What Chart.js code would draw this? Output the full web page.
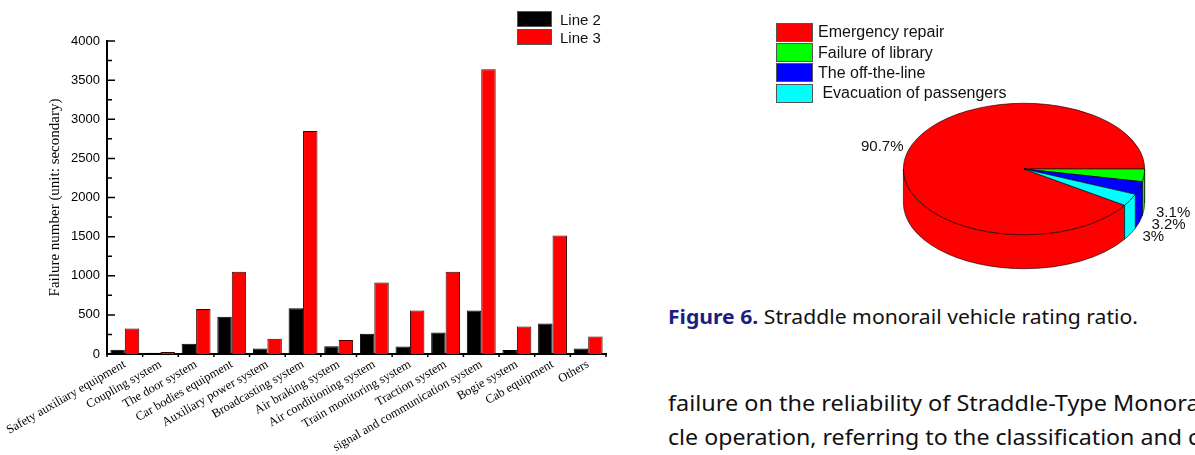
<!DOCTYPE html>
<html>
<head>
<meta charset="utf-8">
<script src="https://cdn.jsdelivr.net/npm/chart.js@4.4.1/dist/chart.umd.min.js"></script>
<style>
  html, body { margin: 0; padding: 0; background: #fff; }
  body { width: 1195px; height: 455px; position: relative; overflow: hidden; }
  canvas { position: absolute; }
  #bar { left: 0; top: 0; }
  #pie { left: 740px; top: 0; }
  .legend { position: absolute; font-family: "Liberation Sans", Arial, sans-serif; color: #111; }
  .legend .row { display: flex; align-items: center; white-space: pre; }
  .legend .box { box-sizing: border-box; border: 1px solid #555; }
  #barLegend { left: 517px; top: 10px; font-size: 15px; }
  #barLegend .row { height: 18px; }
  #barLegend .box { width: 35px; height: 16px; margin-right: 8px; }
  #pieLegend { left: 776px; top: 22px; font-size: 16px; }
  #pieLegend .row { height: 20.4px; }
  #pieLegend .box { width: 37px; height: 19px; margin-right: 5px; }
  .txt { position: absolute; left: 668px; white-space: nowrap; font-family: "Noto Sans", "Open Sans", sans-serif; transform-origin: 0 50%; color: #111; }
  #caption { top: 305px; font-size: 20px; line-height: 24px; }
  #caption b { color: #1e1e82; }
  #line1 { top: 388px; font-size: 22px; line-height: 28px; }
  #line2 { top: 422px; font-size: 22px; line-height: 28px; }
</style>
</head>
<body>
<canvas id="bar" width="640" height="455"></canvas>
<canvas id="pie" width="455" height="300"></canvas>
<div id="barLegend" class="legend"></div>
<div id="pieLegend" class="legend"></div>
<div id="caption" class="txt" data-w="470"><span class="fit"><b>Figure 6.</b> Straddle monorail vehicle rating ratio.</span></div>
<div id="line1" class="txt" data-w="439"><span class="fit">failure on the reliability of Straddle-Type</span> Monorail Vehi-</div>
<div id="line2" class="txt" data-w="514"><span class="fit">cle operation, referring to the classification and</span> collection</div>
<script>
const categories = [
  "Safety auxiliary equipment", "Coupling system", "The door system", "Car bodies equipment",
  "Auxiliary power system", "Broadcasting system", "Air braking system", "Air conditioning system",
  "Train monitoring system", "Traction system", "signal and communication system", "Bogie system",
  "Cab equipment", "Others"
];
const line2 = [55, 15, 130, 475, 70, 585, 100, 260, 95, 275, 555, 50, 390, 70];
const line3 = [325, 25, 575, 1050, 195, 2850, 180, 915, 555, 1050, 3640, 350, 1515, 225];
const yMax = 4000;
const yStep = 500;

const pieLabels = ["Emergency repair", "Failure of library", "The off-the-line", " Evacuation of passengers"];
const pieValues = [90.7, 3.1, 3.2, 3];
const pieColors = ["#ff0000", "#00ff00", "#0000ff", "#00ffff"];

// ticks pointing into the plot, like the original Origin graph
const axisTicks = {
  id: "axisTicks",
  afterDraw(chart) {
    const { ctx, chartArea: a, scales: { x, y } } = chart;
    ctx.save();
    ctx.strokeStyle = "#000";
    ctx.lineWidth = 1.5;
    ctx.beginPath();
    for (let v = 0; v <= yMax; v += yStep / 2) {
      const py = y.getPixelForValue(v);
      const len = v % yStep === 0 ? 8 : 5;
      ctx.moveTo(a.left, py);
      ctx.lineTo(a.left + len, py);
    }
    const step = x.getPixelForValue(1) - x.getPixelForValue(0);
    for (let i = 0; i <= categories.length; i++) {
      const px = x.getPixelForValue(i) - step / 2;
      ctx.moveTo(px, a.bottom);
      ctx.lineTo(px, a.bottom + 3);
    }
    ctx.stroke();
    ctx.restore();
  }
};

new Chart(document.getElementById("bar"), {
  type: "bar",
  data: {
    labels: categories,
    datasets: [
      { label: "Line 2", data: line2, backgroundColor: "#000", borderColor: "#000", borderWidth: 1 },
      { label: "Line 3", data: line3, backgroundColor: "#ff0000", borderColor: "#3a0000", borderWidth: 1 }
    ]
  },
  options: {
    responsive: false,
    animation: false,
    devicePixelRatio: 1,
    categoryPercentage: 0.81,
    barPercentage: 1,
    layout: { padding: { top: 41, right: 34, left: 0, bottom: 0 } },
    plugins: { legend: { display: false }, tooltip: { enabled: false } },
    scales: {
      x: {
        grid: { display: false, drawTicks: false },
        border: { color: "#000", width: 2 },
        ticks: {
          autoSkip: false, maxRotation: 30, minRotation: 30, padding: 3, color: "#000",
          font: { family: "Liberation Serif", size: 12.5 }
        },
        afterFit(s) {
          s.height = 101;
          s.paddingLeft = 0;
          s.paddingRight = 0;
        }
      },
      y: {
        min: 0, max: yMax,
        grid: { display: false, drawTicks: false },
        border: { color: "#000", width: 2 },
        ticks: {
          stepSize: yStep, padding: 7, color: "#000",
          font: { family: "Liberation Sans", size: 13 },
          callback: v => String(v)
        },
        title: {
          display: true, text: "Failure number (unit: secondary)", color: "#000",
          font: { family: "Liberation Serif", size: 15 }, padding: { top: 46, bottom: 0 }
        },
        afterFit(s) { s.width = 107; }
      }
    }
  },
  plugins: [axisTicks]
});

// 3D look: squash the top face and draw the visible side wall below it
const pie3d = {
  id: "pie3d",
  beforeDatasetsDraw(chart, args, opts) {
    const ctx = chart.ctx;
    const arcs = chart.getDatasetMeta(0).data;
    const { x, y, outerRadius: r } = arcs[0];
    const ry = r * opts.squash, d = opts.depth;
    const TAU = Math.PI * 2;
    arcs.forEach(a => {
      let s = ((a.startAngle % TAU) + TAU) % TAU;
      const e = s + (a.endAngle - a.startAngle);
      [[0, Math.PI], [TAU, TAU + Math.PI]].forEach(([lo, hi]) => {
        const a1 = Math.max(s, lo), a2 = Math.min(e, hi);
        if (a2 <= a1) return;
        ctx.beginPath();
        ctx.ellipse(x, y, r, ry, 0, a1, a2);
        ctx.ellipse(x, y + d, r, ry, 0, a2, a1, true);
        ctx.closePath();
        ctx.fillStyle = a.options.backgroundColor;
        ctx.fill();
        ctx.strokeStyle = "#000";
        ctx.lineWidth = 0.6;
        ctx.stroke();
      });
    });
    ctx.save();
    ctx.translate(x, y);
    ctx.scale(1, opts.squash);
    ctx.translate(-x, -y);
  },
  afterDatasetsDraw(chart, args, opts) {
    const ctx = chart.ctx;
    ctx.restore();
    const arcs = chart.getDatasetMeta(0).data;
    ctx.save();
    ctx.fillStyle = "#111";
    ctx.font = "15px 'Liberation Sans', Arial, sans-serif";
    ctx.textBaseline = "middle";
    arcs.forEach((a, i) => {
      const m = (a.startAngle + a.endAngle) / 2;
      const px = a.x + a.outerRadius * Math.cos(m);
      const py = a.y + a.outerRadius * opts.squash * Math.sin(m);
      const right = Math.cos(m) >= 0;
      ctx.textAlign = right ? "left" : "right";
      const tx = right ? px + 12 : px - 5;
      const ty = Math.sin(m) > 0 ? py + opts.depth + 3 : py - 3;
      ctx.fillText(pieValues[i] + "%", tx, ty);
    });
    ctx.restore();
  }
};

const pieTotal = pieValues.reduce((p, c) => p + c, 0);
new Chart(document.getElementById("pie"), {
  type: "pie",
  data: {
    labels: pieLabels,
    datasets: [{ data: pieValues, backgroundColor: pieColors, borderColor: "#000", borderWidth: 0.8 }]
  },
  options: {
    responsive: false,
    animation: false,
    devicePixelRatio: 1,
    rotation: 90 - 360 * pieValues[0] / pieTotal,
    layout: { padding: { left: 163, right: 50, top: 48, bottom: 10 } },
    plugins: {
      legend: { display: false },
      tooltip: { enabled: false },
      pie3d: { squash: 0.545, depth: 34 }
    }
  },
  plugins: [pie3d]
});

function buildLegend(id, labels, colors) {
  const el = document.getElementById(id);
  labels.forEach((t, i) => {
    const row = document.createElement("div");
    row.className = "row";
    const box = document.createElement("span");
    box.className = "box";
    box.style.background = colors[i];
    row.appendChild(box);
    row.appendChild(document.createTextNode(t));
    el.appendChild(row);
  });
}
buildLegend("barLegend", ["Line 2", "Line 3"], ["#000", "#ff0000"]);
buildLegend("pieLegend", pieLabels, pieColors);

document.querySelectorAll(".txt").forEach(el => {
  const w = el.querySelector(".fit").getBoundingClientRect().width;
  el.style.transform = "scaleX(" + (+el.dataset.w / w) + ")";
});
</script>
</body>
</html>
